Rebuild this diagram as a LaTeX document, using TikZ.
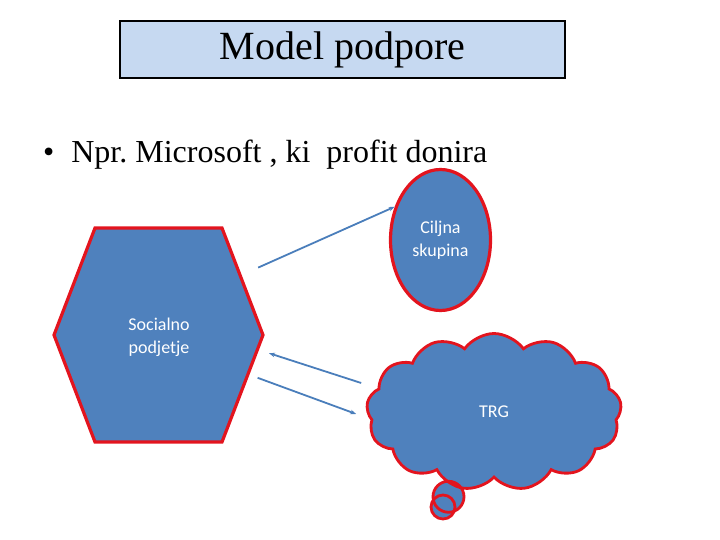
\documentclass[tikz,border=0pt]{standalone}
\usepackage{fontspec}
\setmainfont{Liberation Serif}
\newfontfamily\calibri{Carlito}
\usetikzlibrary{shapes.geometric,shapes.callouts,arrows.meta,positioning,calc}
\definecolor{boxblue}{HTML}{C6D9F1}
\definecolor{shapeblue}{HTML}{4F81BD}
\definecolor{edgered}{HTML}{E3141E}
\definecolor{arrowblue}{HTML}{4A7EBB}
\tikzset{
  shapefill/.style={fill=shapeblue, draw=edgered, line width=3.2pt},
  shapetext/.style={text=white, font=\calibri\fontsize{18}{23}\selectfont, align=center},
  arr/.style={-{Stealth[length=6pt,width=4.5pt]}, draw=arrowblue, line width=1.8pt}
}

\begin{document}
\begin{tikzpicture}[x=1pt,y=-1pt]
	\useasboundingbox (0,0) rectangle (720,540);
	
	% Title
	\node[draw, line width=2pt, fill=boxblue, minimum width=445pt, minimum height=57pt,
		font=\fontsize{40}{44}\selectfont] (title) at (342.5,49.5) {Model podpore};
	
	% Bullet
	\node[anchor=base west, inner sep=0pt, font=\fontsize{32}{38}\selectfont] (point) at (43,163)
		{\textbullet\hspace{17pt}Npr.\ Microsoft , ki\ \ profit donira};
	
	% Socialno podjetje
	\draw[shapefill] (95,228) coordinate (hex-nw)
		-- (222,228) coordinate (hex-ne)
		-- (263,335) coordinate (hex-e)
		-- (222,442) coordinate (hex-se)
		-- (95,442) coordinate (hex-sw)
		-- (54,335) coordinate (hex-w)
		-- cycle;
	\node[shapetext] (soc) at (159,337) {Socialno\\podjetje};
	
	% Ciljna skupina
	\node[ellipse, shapefill, shapetext, minimum width=100pt, minimum height=141pt] (cilj) at (440.5,240) {Ciljna\\skupina};
	
	% TRG
	\node[cloud callout, shapefill, shapetext, line width=2.8pt, cloud puffs=13, cloud puff arc=110, aspect=1.6,
		minimum width=255pt, minimum height=157pt,
		callout absolute pointer={(443,507)}, callout pointer segments=2,
		callout pointer start size=38pt and 38pt, callout pointer end size=24pt and 24pt] (trg) at (494,412) {TRG};
	
	% Arrows
	\coordinate (a1s) at ($(hex-ne)!0.37!(hex-e)+(21,0)$);
	\coordinate (a2e) at ($(hex-e)!0.17!(hex-se)+(13,0)$);
	\coordinate (a3s) at ($(hex-e)!0.4!(hex-se)+(11,0)$);
	\draw[arr] (a1s) -- (cilj.144);
	\draw[arr] ($(trg.west)+(-5,-29)$) -- (a2e);
	\draw[arr] (a3s) -- ($(trg.west)+(-10,2)$);
\end{tikzpicture}
\end{document}
